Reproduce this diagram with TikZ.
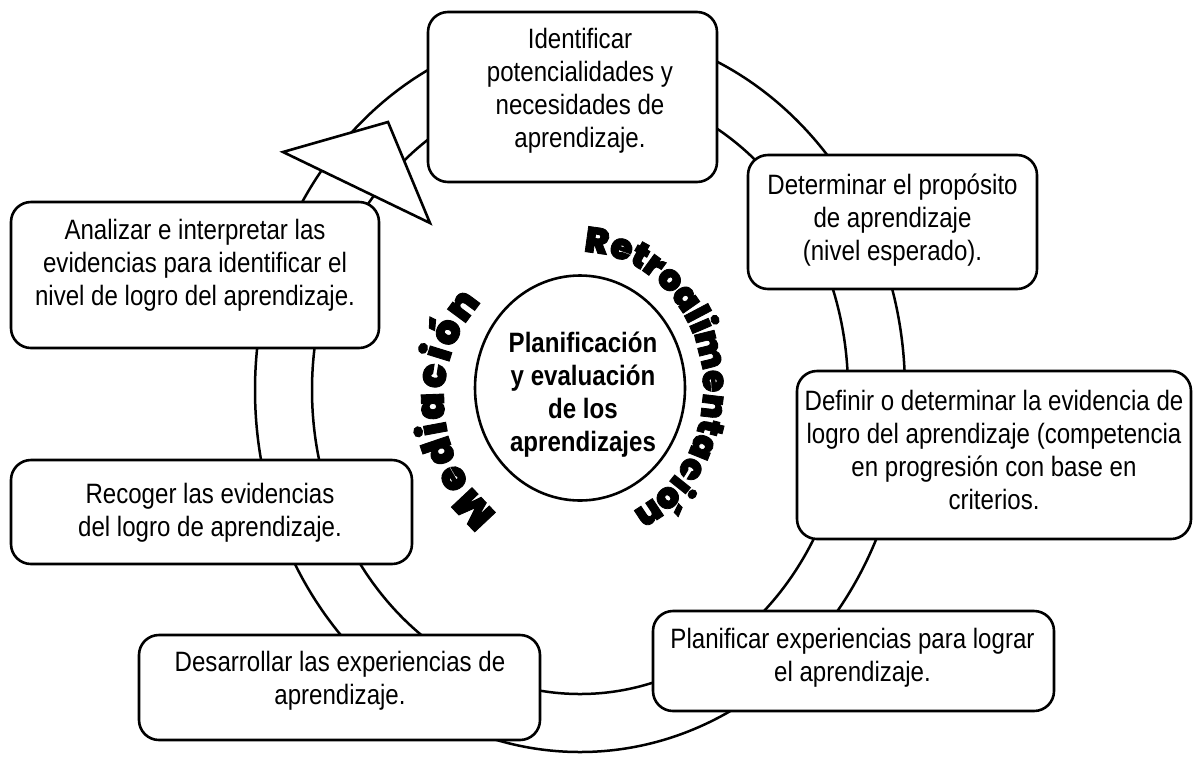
\documentclass[tikz,border=0pt]{standalone}
\usepackage{fontspec}
\setmainfont{Liberation Sans}[FakeStretch=0.86]
\IfFontExistsTF{Poppins Black}
  {\newfontfamily\heavyfont{Poppins Black}[FakeBold=2.2]}
  {\IfFontExistsTF{Lato Black}
     {\newfontfamily\heavyfont{Lato Black}[FakeStretch=1.15,FakeBold=2.2]}
     {\newfontfamily\heavyfont{Liberation Sans Bold}[FakeBold=4,FakeStretch=1.3]}}
\usetikzlibrary{shapes.geometric}
\tikzset{
  box/.style={draw, line width=2.6pt, rounded corners=20pt, fill=white, inner sep=0pt},
  txt/.style={align=center, font=\fontsize{28}{33}\selectfont, inner sep=0pt},
  hubtxt/.style={align=center, font=\bfseries\fontsize{28}{33}\selectfont, inner sep=0pt},
  ringline/.style={line width=2.5pt},
  retroletter/.style={anchor=base, inner sep=0pt, font=\heavyfont\fontsize{36}{36}\selectfont},
  medletter/.style={anchor=base, inner sep=0pt, font=\heavyfont\fontsize{40}{40}\selectfont},
}
\begin{document}
\begin{tikzpicture}[x=1pt,y=-1pt]
\useasboundingbox[fill=white] (0,0) rectangle (1193,756);
% ring
\draw[ringline] (580,390) ellipse[x radius=325, y radius=362];
\draw[ringline] (580,390) ellipse[x radius=268, y radius=304];
% arrow head
\draw[line width=2.6pt, fill=white, line join=miter] (283,152) -- (388,122) -- (430,223) -- cycle;
% hub
\node[ellipse, draw, line width=2.6pt, minimum width=210pt, minimum height=225pt, inner sep=0pt] (hub) at (580,388) {};
\node[hubtxt] (hubt) at (583,395) {Planificación\\y evaluación\\de los\\aprendizajes};
% curved words, letter by letter
\foreach \ch/\ang [count=\k] in {R/-82.85, e/-72.0, t/-63.67, r/-56.57, o/-47.82, a/-37.81, l/-30.29, i/-25.28, m/-15.28, e/-2.71, n/7.26, t/15.59, a/23.95, c/33.96, i/41.46, ó/48.97, n/58.99}
  \node[retroletter, rotate={atan2(-136*cos(\ang), -123*sin(\ang))}] (retro\k) at ({580+123*cos(\ang)}, {388+136*sin(\ang)}) {\ch};
\foreach \ch/\ang [count=\k] in {M/136.74, e/150.11, d/161.19, i/169.50, a/177.80, c/188.87, i/197.18, ó/205.48, n/216.56}
  \node[medletter, rotate={atan2(-146*cos(\ang), -146*sin(\ang))}] (med\k) at ({590+146*cos(\ang)}, {400+146*sin(\ang)}) {\ch};
% boxes
\node[box, minimum width=289pt, minimum height=170pt] (b1) at (572.5,97) {};
\node[txt] (t1) at (580,91) {Identificar\\potencialidades y\\necesidades de\\aprendizaje.};
\node[box, minimum width=289pt, minimum height=134pt] (b2) at (892.5,222) {};
\node[txt] (t2) at (892.5,220) {Determinar el propósito\\de aprendizaje\\(nivel esperado).};
\node[box, minimum width=368pt, minimum height=146pt] (b3) at (195,275) {};
\node[txt] (t3) at (195,265) {Analizar e interpretar las\\evidencias para identificar el\\nivel de logro del aprendizaje.};
\node[box, minimum width=394pt, minimum height=168pt] (b4) at (994,455) {};
\node[txt] (t4) at (994,450) {Definir o determinar la evidencia de\\logro del aprendizaje (competencia\\en progresión con base en\\criterios.};
\node[box, minimum width=401pt, minimum height=104pt] (b5) at (211.5,512) {};
\node[txt] (t5) at (210,513) {Recoger las evidencias\\del logro de aprendizaje.};
\node[box, minimum width=401pt, minimum height=100pt] (b6) at (853.5,661) {};
\node[txt] (t6) at (852.5,658) {Planificar experiencias para lograr\\el aprendizaje.};
\node[box, minimum width=401pt, minimum height=105pt] (b7) at (339.5,687.5) {};
\node[txt] (t7) at (340,681) {Desarrollar las experiencias de\\aprendizaje.};
\end{tikzpicture}
\end{document}
